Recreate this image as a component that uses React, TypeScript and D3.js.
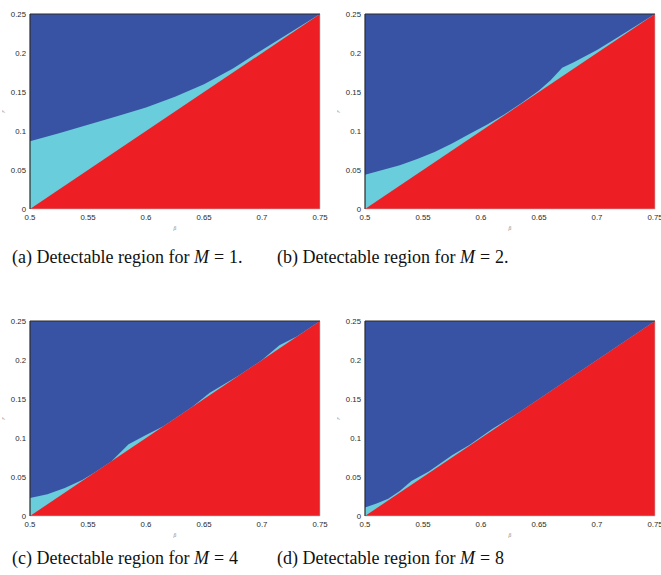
import React from 'react';
import * as d3 from 'd3';

// upper boundary of the detectable (cyan) region, one per M
const betaM1 = [0.5, 0.525, 0.55, 0.575, 0.6, 0.625, 0.65, 0.675, 0.7, 0.725, 0.75];
const rM1 = [0.087, 0.097, 0.108, 0.119, 0.13, 0.144, 0.16, 0.18, 0.204, 0.227, 0.25];

const betaM2 = [0.5, 0.515, 0.53, 0.545, 0.56, 0.575, 0.59, 0.605, 0.62, 0.635, 0.65, 0.66, 0.67, 0.68, 0.7, 0.72, 0.75];
const rM2 = [0.044, 0.05, 0.056, 0.064, 0.073, 0.084, 0.096, 0.108, 0.121, 0.136, 0.152, 0.165, 0.181, 0.188, 0.204, 0.222, 0.25];

const betaM4 = [0.5, 0.515, 0.53, 0.545, 0.555, 0.57, 0.585, 0.6, 0.615, 0.64, 0.655, 0.68, 0.7, 0.715, 0.73, 0.75];
const rM4 = [0.023, 0.028, 0.036, 0.046, 0.055, 0.07, 0.092, 0.104, 0.115, 0.14, 0.158, 0.18, 0.2, 0.219, 0.23, 0.25];

const betaM8 = [0.5, 0.51, 0.52, 0.53, 0.54, 0.555, 0.575, 0.59, 0.61, 0.63, 0.75];
const rM8 = [0.011, 0.016, 0.022, 0.032, 0.045, 0.057, 0.078, 0.091, 0.112, 0.13, 0.25];

// lower boundary (undetectable red region below r = beta - 1/2)
const diagBeta = [0.5, 0.75];
const diagR = [0, 0.25];

const xTicks = [0.5, 0.55, 0.6, 0.65, 0.7, 0.75];
const yTicks = [0, 0.05, 0.1, 0.15, 0.2, 0.25];

const panels = [
  { tag: '(a)', M: '1.', beta: betaM1, r: rM1, left: 30, top: 14 },
  { tag: '(b)', M: '2.', beta: betaM2, r: rM2, left: 365, top: 14 },
  { tag: '(c)', M: '4', beta: betaM4, r: rM4, left: 30, top: 321 },
  { tag: '(d)', M: '8', beta: betaM8, r: rM8, left: 365, top: 321 },
];

const W = 290;
const H = 195;
const BLUE = '#3953a4';
const CYAN = '#6acddb';
const RED = '#ed1f24';

const Panel = ({ p }) => {
  const x = d3.scaleLinear().domain([0.5, 0.75]).range([0, W]);
  const y = d3.scaleLinear().domain([0, 0.25]).range([H, 0]);

  const area = d3
    .area<[number, number]>()
    .x((d) => x(d[0]))
    .y0(y(0))
    .y1((d) => y(d[1]));

  const curve = p.beta.map((b, i) => [b, p.r[i]] as [number, number]);
  const diag = diagBeta.map((b, i) => [b, diagR[i]] as [number, number]);

  return (
    <g transform={`translate(${p.left},${p.top})`}>
      <rect x={0} y={0} width={W} height={H} fill={BLUE} />
      <path d={area(curve)} fill={CYAN} />
      <path d={area(diag)} fill={RED} />
      <line x1={W} y1={0} x2={W} y2={H} stroke="#bbb" strokeWidth={0.6} />
      <line x1={0} y1={H} x2={W} y2={H} stroke="#bbb" strokeWidth={0.6} />
      <line x1={0} y1={0} x2={W} y2={0} stroke="#2a2a2a" strokeWidth={1.2} />
      <line x1={0} y1={0} x2={0} y2={H} stroke="#2a2a2a" strokeWidth={1.2} />

      {yTicks.map((t) => (
        <text key={'y' + t} x={-4} y={y(t)} dy="0.35em" textAnchor="end"
          fontSize={7.8} fill="#2a2a2a" fontFamily="Liberation Sans, Arial, sans-serif">
          {d3.format('~g')(t)}
        </text>
      ))}
      {xTicks.map((t) => (
        <text key={'x' + t} x={x(t)} y={H + 11} textAnchor="middle"
          fontSize={7.8} fill="#2a2a2a" fontFamily="Liberation Sans, Arial, sans-serif">
          {d3.format('~g')(t)}
        </text>
      ))}
      <text x={W / 2} y={H + 21} textAnchor="middle" fontSize={5} fill="#888"
        fontFamily="DejaVu Serif, serif" fontStyle="italic">β</text>
      <text transform={`translate(${-25},${H / 2}) rotate(-90)`} textAnchor="middle"
        fontSize={5} fill="#888" fontFamily="DejaVu Serif, serif" fontStyle="italic">r</text>
    </g>
  );
};

export default function App() {
  const captions = [
    { p: panels[0], x: 12, y: 263 },
    { p: panels[1], x: 277, y: 263 },
    { p: panels[2], x: 12, y: 564 },
    { p: panels[3], x: 277, y: 564 },
  ];
  return (
    <svg width={661} height={575} style={{ position: 'absolute', left: 0, top: 0, background: '#fff' }}>
      {panels.map((p) => (
        <Panel key={p.tag} p={p} />
      ))}
      {captions.map((c) => (
        <text key={c.p.tag} x={c.x} y={c.y} fontSize={18} fill="#111"
          fontFamily="Liberation Serif, Times New Roman, serif">
          {c.p.tag} Detectable region for{' '}
          <tspan fontStyle="italic">M</tspan>
          <tspan dx={5}>=</tspan>
          <tspan dx={5}>{c.p.M}</tspan>
        </text>
      ))}
    </svg>
  );
}
